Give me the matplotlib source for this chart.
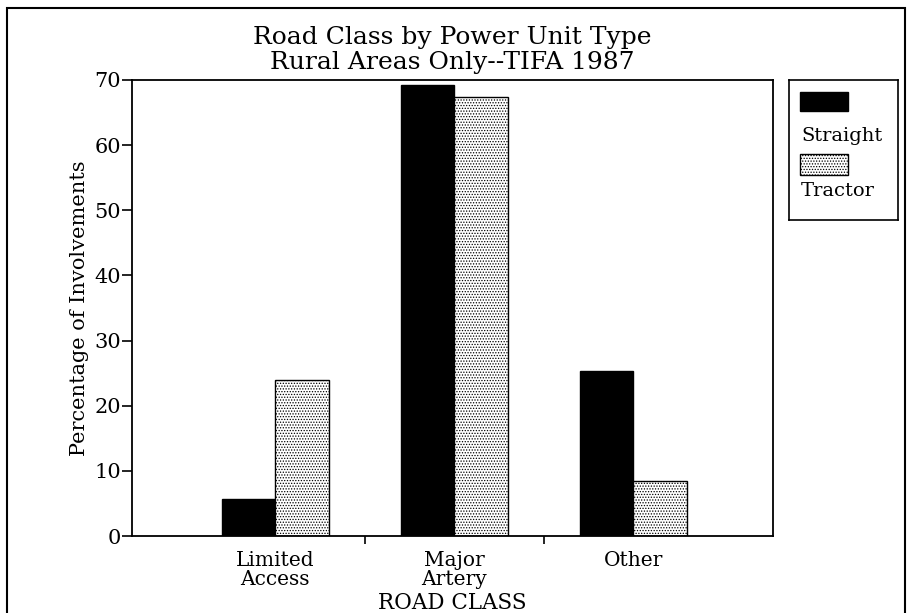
import matplotlib.pyplot as plt
from matplotlib.patches import Rectangle

plt.rcParams["font.family"] = ["DejaVu Serif"]
plt.rcParams["hatch.linewidth"] = 0.6

categories = ["Limited\nAccess", "Major\nArtery", "Other"]
straight = [5.7, 69.2, 25.4]
tractor = [23.9, 67.4, 8.5]
series_names = ["Straight", "Tractor"]
yticks = [0, 10, 20, 30, 40, 50, 60, 70]

fig = plt.figure(figsize=(9.07, 6.13), dpi=100)
ax = fig.add_axes([0.1455, 0.1256, 0.7068, 0.744])

pos = [1, 2, 3]
w = 0.3
ax.bar([p - w / 2 for p in pos], straight, width=w, color="black",
       edgecolor="black", linewidth=1)
ax.bar([p + w / 2 for p in pos], tractor, width=w, color="white",
       edgecolor="black", hatch="......", linewidth=1)

ax.set_xlim(0.2, 3.78)
ax.set_ylim(0, 70)
ax.set_yticks(yticks)
ax.set_xticks([1.5, 2.5])
ax.set_xticklabels([])
ax.set_xticks(pos, minor=True)
ax.set_xticklabels(categories, minor=True, fontsize=14.5, linespacing=0.95)
ax.tick_params(axis="x", which="minor", length=0, pad=11)
ax.tick_params(axis="x", which="major", length=6, width=1.2, direction="out")
ax.tick_params(axis="y", length=7, width=1.2, labelsize=15, pad=1)
for s in ax.spines.values():
    s.set_linewidth(1.3)

ax.set_ylabel("Percentage of Involvements", fontsize=15, labelpad=4)
fig.text(0.1455 + 0.7068 / 2, 0.006, "ROAD CLASS", fontsize=15.5,
         ha="center", va="baseline")
ax.set_title("Road Class by Power Unit Type\nRural Areas Only--TIFA 1987",
             fontsize=18, linespacing=1.1, pad=8)

# legend box drawn by hand: patch above label
lg = fig.add_axes([0.870, 0.641, 0.120, 0.228])
lg.set_xlim(0, 1)
lg.set_ylim(0, 1)
lg.set_xticks([])
lg.set_yticks([])
for s in lg.spines.values():
    s.set_linewidth(1.2)
lg.add_patch(Rectangle((0.10, 0.78), 0.44, 0.135, facecolor="black",
                       edgecolor="black", linewidth=1))
lg.text(0.11, 0.60, series_names[0], fontsize=14, va="center", ha="left")
lg.add_patch(Rectangle((0.10, 0.32), 0.44, 0.15, facecolor="white",
                       edgecolor="black", hatch="......", linewidth=1))
lg.text(0.11, 0.21, series_names[1], fontsize=14, va="center", ha="left")

# outer frame around the figure
fig.patches.append(Rectangle((0.008, -0.01), 0.99, 0.997, transform=fig.transFigure,
                             fill=False, edgecolor="black", linewidth=1.5))

fig.savefig("out.png", dpi=100)
